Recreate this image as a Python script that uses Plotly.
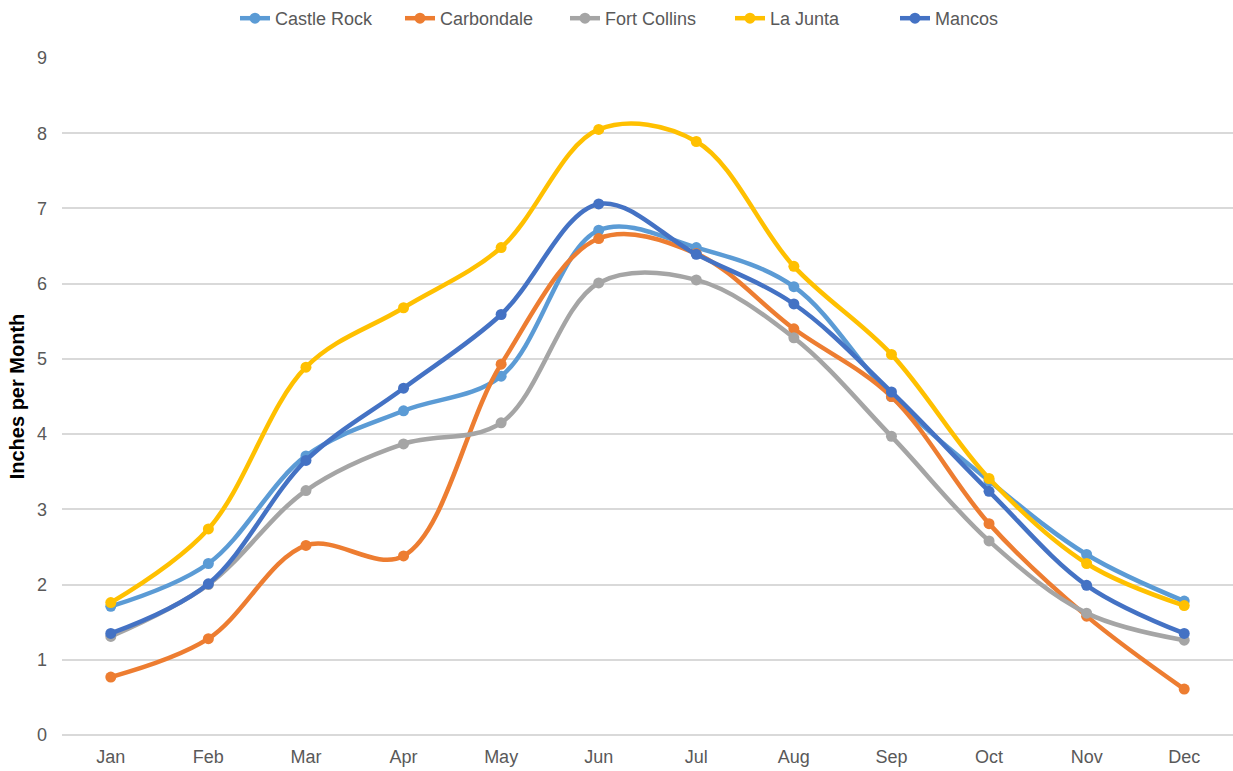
import plotly.graph_objects as go

months = ["Jan", "Feb", "Mar", "Apr", "May", "Jun", "Jul", "Aug", "Sep", "Oct", "Nov", "Dec"]

castle_rock = [1.71, 2.28, 3.71, 4.31, 4.77, 6.71, 6.48, 5.96, 4.50, 3.38, 2.40, 1.78]
carbondale = [0.77, 1.28, 2.52, 2.38, 4.93, 6.60, 6.40, 5.40, 4.50, 2.81, 1.58, 0.61]
fort_collins = [1.31, 2.00, 3.25, 3.87, 4.15, 6.01, 6.05, 5.28, 3.97, 2.58, 1.62, 1.26]
la_junta = [1.76, 2.74, 4.89, 5.68, 6.48, 8.05, 7.89, 6.23, 5.06, 3.41, 2.28, 1.72]
mancos = [1.35, 2.01, 3.65, 4.61, 5.59, 7.06, 6.39, 5.73, 4.56, 3.24, 1.99, 1.35]

series = [
    ("Castle Rock", castle_rock, "#5B9BD5"),
    ("Carbondale", carbondale, "#ED7D31"),
    ("Fort Collins", fort_collins, "#A5A5A5"),
    ("La Junta", la_junta, "#FFC000"),
    ("Mancos", mancos, "#4472C4"),
]

fig = go.Figure()
for name, vals, color in series:
    fig.add_trace(go.Scatter(
        x=months, y=vals, name=name,
        mode="lines+markers",
        line=dict(color=color, width=4.5, shape="spline", smoothing=1),
        marker=dict(color=color, size=11),
    ))

fig.update_layout(
    width=1233, height=771,
    margin=dict(l=62, r=0, t=56, b=36),
    plot_bgcolor="white", paper_bgcolor="white",
    font=dict(family="Liberation Sans, Arial, sans-serif", size=18, color="#595959"),
    legend=dict(
        orientation="h", x=0.5, xanchor="center", y=1.059, yanchor="middle",
        yref="paper", font=dict(size=18, color="#595959"),
        itemwidth=30, tracegroupgap=0, entrywidth=120,
    ),
    xaxis=dict(
        showgrid=False, showline=False, ticks="",
        tickfont=dict(size=18, color="#595959"), ticklabelstandoff=9,
        range=[-0.5, 11.5],
    ),
    yaxis=dict(
        range=[0, 9], dtick=1, showgrid=True, gridcolor="#D9D9D9", gridwidth=2,
        zeroline=True, zerolinecolor="#D9D9D9", zerolinewidth=2,
        tickfont=dict(size=18, color="#595959"), ticklabelstandoff=14,
        title=dict(text="<b>Inches per Month</b>", font=dict(size=20, color="black"), standoff=6),
    ),
)

fig.write_html("out.html")
